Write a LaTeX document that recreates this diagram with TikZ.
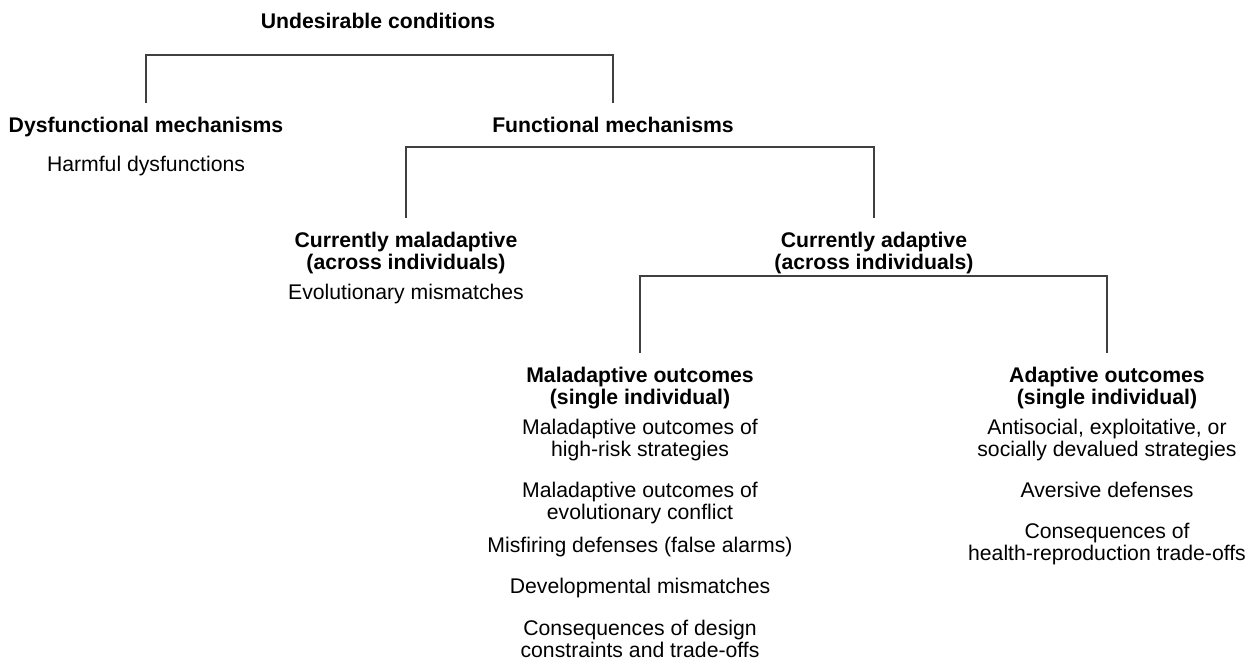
\documentclass[tikz,border=0pt]{standalone}
\usepackage{fontspec}
\setmainfont{Liberation Sans}
\begin{document}
\begin{tikzpicture}[x=0.75pt,y=-0.75pt,
  hd/.style={font=\fontsize{15.9}{16.5}\selectfont\bfseries, align=center, inner sep=0pt, anchor=north},
  tx/.style={font=\fontsize{15.9}{16.5}\selectfont, align=center, inner sep=0pt, anchor=north},
  br/.style={draw=black!75, line width=0.8pt}]
\useasboundingbox (0,0) rectangle (1255,665);
% headings
\node[hd] (und)  at (378,13)  {Undesirable conditions};
\node[hd] (dys)  at (146,117) {Dysfunctional mechanisms};
\node[hd] (fun)  at (613,117) {Functional mechanisms};
\node[tx] (harm) at (146,156) {Harmful dysfunctions};
\node[hd] (cmal) at (406,232) {Currently maladaptive\\(across individuals)};
\node[hd] (cad)  at (874,232) {Currently adaptive\\(across individuals)};
\node[tx] (evo)  at (406,284) {Evolutionary mismatches};
\node[hd] (mo)   at (640,367) {Maladaptive outcomes\\(single individual)};
\node[hd] (ao)   at (1107,367) {Adaptive outcomes\\(single individual)};
% left list
\node[tx] (m1) at (640,419) {Maladaptive outcomes of\\high-risk strategies};
\node[tx] (m2) at (640,482) {Maladaptive outcomes of\\evolutionary conflict};
\node[tx] (m3) at (640,537) {Misfiring defenses (false alarms)};
\node[tx] (m4) at (640,578) {Developmental mismatches};
\node[tx] (m5) at (640,620) {Consequences of design\\constraints and trade-offs};
% right list
\node[tx] (a1) at (1107,419) {Antisocial, exploitative, or\\socially devalued strategies};
\node[tx] (a2) at (1107,482) {Aversive defenses};
\node[tx] (a3) at (1107,523) {Consequences of\\health-reproduction trade-offs};
% brackets
\coordinate (b1) at (0,55);
\coordinate (b2) at (0,147);
\coordinate (b3) at (0,276);
\draw[br] ([yshift=10.5pt]dys.north) -- (dys.north |- b1) -| ([yshift=10.5pt]fun.north);
\draw[br] ([yshift=10.5pt]cmal.north) -- (cmal.north |- b2) -| ([yshift=10.5pt]cad.north);
\draw[br] ([yshift=10.5pt]mo.north) -- (mo.north |- b3) -| ([yshift=10.5pt]ao.north);
\end{tikzpicture}
\end{document}
